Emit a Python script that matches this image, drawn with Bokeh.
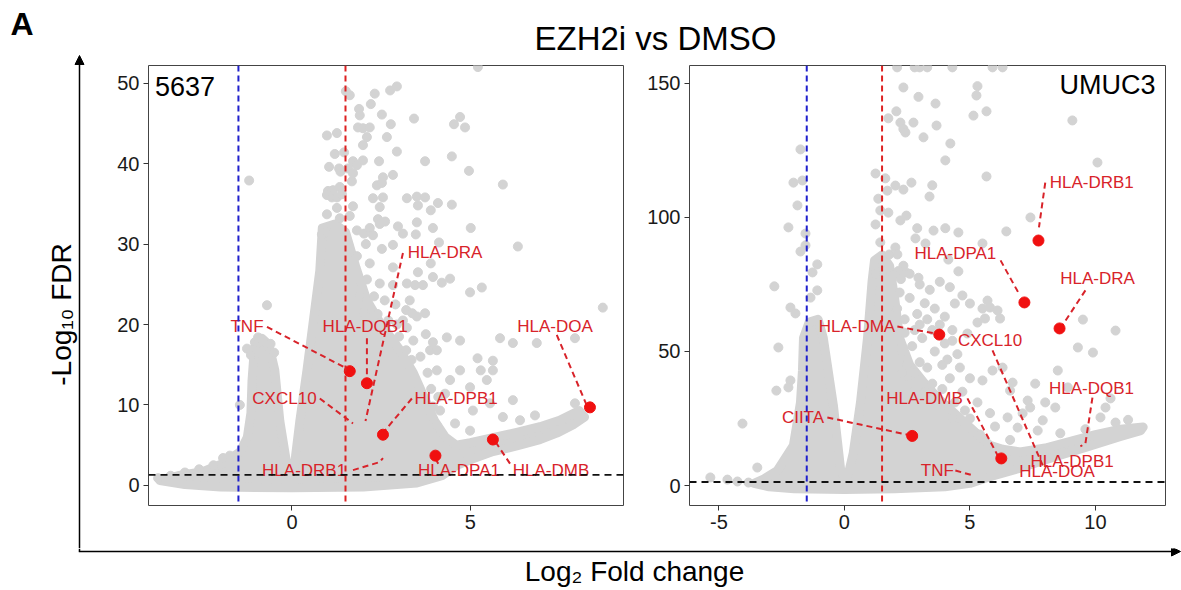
from bokeh.plotting import figure
from bokeh.layouts import column, row
from bokeh.models import Range1d, FixedTicker, Span, Arrow, NormalHead
from bokeh.embed import file_html
from bokeh.resources import INLINE
from bokeh.core.properties import value

# ---------------- data ----------------
# panel 5637 : scattered genes (log2FC, -log10 FDR)
grey_5637 = [
    (5.21, 52.0), (1.51, 49.0), (1.62, 48.5), (2.32, 48.7), (2.75, 49.1), (2.94, 49.6),
    (1.88, 46.8), (1.90, 46.0), (2.21, 47.4), (2.52, 46.1), (3.42, 45.6), (4.71, 45.8), (4.54, 44.9), (4.85, 44.5),
    (0.98, 43.5), (1.26, 43.8), (1.85, 44.5), (1.99, 44.4), (2.18, 44.5), (2.77, 44.9), (2.10, 43.3), (2.66, 43.3),
    (1.99, 42.3), (2.94, 41.5), (1.20, 41.2), (1.46, 41.4), (1.71, 40.3), (1.99, 40.4), (1.82, 39.8), (2.44, 40.3),
    (3.73, 40.3), (4.48, 40.9), (1.04, 39.6), (1.32, 39.4), (1.36, 39.0), (1.57, 39.4), (1.71, 38.8), (4.96, 39.1),
    (-1.20, 37.9), (2.83, 38.6), (2.55, 38.3), (1.68, 37.8), (2.38, 37.3), (2.52, 37.6), (5.91, 37.4),
    (1.01, 36.6), (1.15, 36.7), (1.34, 37.1), (0.98, 36.1), (1.12, 35.8), (1.26, 35.8), (1.40, 36.2), (2.27, 35.7),
    (2.55, 35.8), (3.22, 35.7), (3.50, 35.9), (3.73, 35.8), (3.53, 34.8), (4.09, 35.1), (4.48, 34.9),
    (1.26, 34.5), (1.71, 34.7), (2.46, 34.6), (3.89, 34.2), (0.98, 33.7), (1.34, 33.2), (1.62, 33.5), (2.41, 33.1),
    (2.61, 32.8), (2.46, 32.5), (3.50, 32.7), (2.97, 32.2), (3.11, 31.3), (1.82, 31.7), (2.02, 31.3), (2.18, 32.0),
    (2.27, 31.1), (3.95, 32.0), (5.01, 32.0), (0.84, 31.2), (0.98, 31.5), (1.15, 31.3), (3.47, 31.2), (2.83, 29.9),
    (2.52, 29.4), (2.07, 30.0), (4.12, 30.2), (6.33, 29.7), (1.82, 28.5), (2.18, 27.6), (3.89, 27.6), (2.83, 27.1),
    (3.53, 26.5), (3.95, 25.9), (4.43, 25.7), (2.46, 25.1), (2.83, 24.9), (3.22, 25.1), (3.45, 24.9), (3.67, 24.9),
    (4.20, 25.2), (4.99, 24.0), (5.32, 24.6), (8.71, 22.1), (-0.70, 22.4),
    (3.20, 21.8), (3.37, 21.4), (3.50, 21.0), (3.73, 21.4), (2.94, 20.0), (3.11, 20.5), (3.22, 19.6),
    (3.87, 16.8), (3.95, 17.8), (4.06, 16.8), (4.34, 18.4), (4.71, 18.0),
    (5.83, 18.3), (6.19, 17.7), (6.86, 17.7), (7.93, 18.3),
    (5.20, 15.8), (5.63, 15.5), (5.29, 14.3), (5.63, 14.3), (5.46, 13.1),
    (4.06, 14.3), (4.43, 13.1), (4.71, 14.3), (4.99, 12.2), (5.07, 9.3), (5.55, 10.2), (5.91, 8.5), (4.99, 6.8),
    (4.57, 7.7), (4.15, 9.3), (4.29, 11.4), (6.39, 8.1), (6.81, 8.7), (6.19, 10.6), (7.93, 10.2),
    (2.30, 23.5), (2.60, 23.0), (2.90, 22.5), (3.30, 23.0), (2.00, 21.5), (2.40, 21.3), (2.70, 20.5),
    (3.00, 18.5), (3.40, 18.0), (3.60, 16.0), (3.35, 15.6), (3.80, 14.0), (3.90, 12.0), (4.10, 11.0),
    (3.75, 18.8), (3.20, 16.8), (2.10, 25.6), (1.90, 23.6), (4.05, 7.5), (3.95, 9.8),
    (-1.46, 10.0), (-1.93, 3.4), (-1.74, 3.7), (-1.04, 17.8), (-0.95, 18.4), (-1.26, 17.0), (-1.15, 16.2),
    (-0.60, 17.6), (-0.50, 16.5), (-2.20, 2.5), (-2.60, 2.0), (-3.00, 1.6), (-3.40, 1.2), (-3.75, 0.9),
]
# outline of the densely packed (overplotted) gene cloud, panel 5637
dense_5637 = [
    (-3.7, 0.6), (-3.0, 0.1), (-2.0, -0.2), (0.0, -0.3), (2.0, -0.2), (3.5, 0.3), (4.2, 1.2), (4.62, 2.5),
    (5.07, 3.3), (5.63, 4.2), (6.3, 4.9), (6.95, 5.7), (7.42, 6.5), (7.87, 7.5), (8.2, 8.5), (8.05, 9.3),
    (7.5, 8.1), (6.95, 7.3), (6.3, 6.6), (5.6, 5.9), (5.0, 5.3), (4.6, 5.0), (4.3, 6.0), (4.0, 8.0),
    (3.7, 11.0), (3.4, 14.0), (3.0, 17.0), (2.5, 20.0), (2.1, 23.0), (1.8, 27.0), (1.5, 31.5), (1.2, 32.5),
    (0.85, 32.0), (0.78, 26.7), (0.6, 20.5), (0.42, 14.3), (0.22, 8.0), (0.05, 1.8), (-0.05, 1.5),
    (-0.14, 2.5), (-0.34, 8.0), (-0.48, 14.3), (-0.65, 17.5), (-0.85, 18.3), (-1.05, 17.2), (-1.12, 13.0),
    (-1.15, 9.0), (-1.25, 6.0), (-1.45, 4.2), (-1.9, 2.8), (-2.5, 1.7), (-3.2, 1.2),
]
genes_5637 = ["TNF", "HLA-DQB1", "HLA-DRA", "CXCL10", "HLA-DPB1", "HLA-DRB1", "HLA-DPA1", "HLA-DMB", "HLA-DOA"]
fc_5637 = [1.62, 2.10, 2.04, 1.76, 2.55, 2.55, 4.02, 5.63, 8.35]
fdr_5637 = [14.2, 12.7, 7.5, 7.6, 6.3, 3.5, 3.7, 5.7, 9.7]
shown_5637 = [True, True, False, False, True, False, True, True, True]

# panel UMUC3
grey_umuc3 = [
    (2.1, 156.0), (2.8, 156.0), (3.0, 156.0), (3.3, 156.0), (4.3, 156.0), (5.9, 156.0), (6.3, 156.0),
    (2.35, 148.5), (2.95, 145.0), (3.63, 142.5), (5.30, 149.0), (5.26, 145.5), (5.66, 139.6), (5.14, 138.0),
    (1.75, 137.0), (2.07, 139.6), (2.23, 135.4), (2.35, 133.0), (2.75, 135.4), (2.43, 131.7), (3.67, 134.3),
    (3.15, 129.9), (4.22, 127.6), (-1.75, 125.4), (4.02, 121.3), (9.08, 136.2), (10.08, 120.5), (5.66, 115.3),
    (1.24, 116.4), (-2.03, 113.0), (-1.67, 113.8), (1.63, 114.6), (1.71, 110.0), (2.03, 111.9), (2.35, 110.4),
    (2.67, 113.0), (3.50, 112.0), (3.39, 107.8), (-1.87, 104.5), (1.35, 107.0), (1.43, 102.6), (1.75, 101.8),
    (2.23, 98.9), (2.47, 100.7), (7.41, 100.0), (-2.23, 96.3), (-1.55, 94.0), (1.24, 97.4), (2.90, 96.0),
    (3.55, 95.1), (4.02, 96.0), (4.54, 94.4), (6.45, 94.8), (2.83, 92.2), (3.23, 90.3), (1.43, 90.7), (5.50, 90.3),
    (-1.55, 89.6), (-1.75, 87.3), (2.03, 88.8), (1.79, 86.2), (2.11, 86.2), (-1.08, 82.5), (-1.27, 79.5),
    (4.14, 84.3), (2.35, 82.0), (2.15, 80.0), (2.45, 79.5), (1.95, 78.5), (2.60, 79.0), (2.95, 77.5), (1.85, 76.5),
    (2.25, 77.0), (1.24, 79.0), (4.54, 79.9), (-2.79, 74.3), (-2.63, 51.5), (-2.71, 35.4), (-4.06, 23.1),
    (-3.47, 6.7), (-5.34, 3.0), (-4.66, 2.2), (-4.26, 1.5), (-3.82, 1.1), (-2.15, 66.4), (-1.95, 64.2),
    (-1.08, 72.8), (-1.35, 70.1), (-2.15, 39.2), (-2.23, 36.6), (10.8, 57.8), (9.9, 49.6), (9.5, 61.9),
    (9.3, 51.5), (8.5, 42.9), (8.4, 29.1), (8.9, 36.6), (7.6, 38.0), (6.7, 38.4), (6.6, 35.4), (5.7, 69.0),
    (5.8, 66.4), (5.5, 66.0), (5.0, 67.9), (4.4, 67.9), (4.7, 70.9), (4.9, 56.7), (4.3, 54.0), (4.0, 53.0),
    (5.3, 60.8), (5.6, 62.3), (6.1, 65.3), (6.2, 62.3), (6.3, 44.0), (5.9, 42.9), (5.5, 39.2), (7.3, 31.7),
    (7.4, 29.1), (8.0, 31.0), (7.9, 24.3), (7.7, 20.5), (6.5, 25.4), (6.9, 21.6), (7.1, 26.9), (10.2, 25.4),
    (10.4, 29.1), (10.6, 32.5), (3.0, 75.0), (3.4, 73.0), (3.8, 76.0), (4.2, 74.0), (2.6, 70.0), (3.2, 68.0),
    (3.6, 66.0), (2.9, 64.0), (3.3, 62.0), (4.0, 63.0), (2.4, 62.0), (2.8, 58.0), (3.1, 55.0), (3.6, 50.0),
    (4.1, 47.0), (4.6, 44.0), (5.0, 40.0), (4.7, 35.0), (5.3, 31.0), (5.8, 27.0), (6.0, 22.0), (6.6, 17.0),
    (8.6, 19.5), (9.6, 21.0), (10.8, 23.5), (11.3, 24.5),
    (2.3, 50.0), (2.5, 45.0), (2.8, 42.0), (3.0, 46.0), (3.3, 44.0), (2.7, 52.0), (2.4, 57.0), (3.5, 38.0),
    (3.9, 36.0), (4.2, 40.0), (4.4, 31.0), (4.8, 28.0), (5.0, 25.0), (2.1, 66.0), (2.2, 72.0), (3.5, 58.0),
    (3.8, 60.0), (3.0, 60.0), (4.3, 58.0), (4.5, 49.0), (3.9, 45.0), (2.6, 38.0), (3.2, 35.0), (3.7, 30.0),
    (4.3, 25.0), (5.4, 19.0), (2.9, 32.0), (2.3, 42.0),
]
dense_umuc3 = [
    (-3.6, 0.8), (-3.0, -0.5), (-2.0, -1.2), (0.0, -1.5), (2.0, -1.2), (4.0, -0.5), (5.0, 0.8), (5.7, 3.0),
    (7.0, 6.5), (8.3, 10.5), (9.7, 14.5), (11.0, 18.3), (11.8, 20.5), (11.9, 21.8), (11.0, 21.0), (10.0, 19.0),
    (9.0, 16.5), (8.0, 14.0), (7.0, 12.5), (6.3, 13.5), (5.8, 15.0), (5.2, 20.0), (4.5, 26.0), (3.8, 32.0),
    (3.2, 38.0), (2.6, 45.0), (2.2, 55.0), (2.0, 70.0), (1.8, 82.0), (1.5, 86.0), (1.2, 84.0),
    (1.1, 76.0), (0.92, 55.0), (0.64, 31.0), (0.35, 12.0), (0.15, 4.0), (0.0, 2.5), (-0.15, 6.0),
    (-0.44, 30.0), (-0.84, 55.0), (-1.05, 62.0), (-1.4, 61.0), (-1.63, 55.0), (-1.67, 43.0), (-1.75, 31.0),
    (-2.03, 15.0), (-2.67, 5.6), (-3.2, 2.5),
]
genes_umuc3 = ["HLA-DRB1", "HLA-DPA1", "HLA-DRA", "HLA-DMA", "CXCL10", "HLA-DMB", "CIITA", "TNF",
               "HLA-DQB1", "HLA-DPB1", "HLA-DOA"]
fc_umuc3 = [7.73, 7.17, 8.57, 3.78, 7.9, 6.25, 2.7, 5.2, 9.4, 8.1, 7.7]
fdr_umuc3 = [91.4, 68.3, 58.6, 56.3, 9.9, 10.1, 18.5, 3.4, 14.5, 10.4, 9.7]
shown_umuc3 = [True, True, True, True, False, True, True, False, False, False, False]

fc_cut = 1.5
fdr_cut = 1.3

# ---------------- label layout (repel positions) ----------------
lab_5637 = [(-1.26, 19.8), (2.05, 19.7), (4.29, 28.9), (-0.21, 10.8), (4.60, 10.8), (0.34, 1.9),
            (4.68, 1.9), (7.26, 1.9), (7.37, 19.8)]
seg_5637 = [([-0.70, 1.55], [19.7, 14.5]), ([2.10, 2.10], [18.3, 13.6]), ([3.11, 2.06], [28.9, 8.0]),
            ([0.78, 1.71], [10.8, 7.7]), ([3.36, 2.60], [10.8, 6.8]), ([1.71, 2.46, 2.55], [1.9, 2.9, 3.4]),
            ([4.10, 4.00], [2.7, 3.5]), ([6.11, 5.69], [2.7, 5.5]), ([7.42, 8.26], [18.7, 9.95])]
lab_umuc3 = [(9.85, 113.0), (4.42, 86.6), (10.08, 77.2), (0.5, 59.3), (5.8, 54.0), (3.19, 32.5),
             (-1.65, 25.4), (3.7, 5.6), (9.84, 36.2), (9.07, 9.0), (8.47, 5.2)]
seg_umuc3 = [([8.0, 7.75], [113.0, 96.3]), ([6.22, 6.95], [84.0, 71.6]), ([9.6, 8.7], [72.8, 60.0]),
             ([2.11, 3.63], [59.3, 56.7]), ([5.9, 7.9], [50.4, 7.5]), ([4.9, 6.14], [32.5, 10.6]),
             ([-0.68, 2.63], [25.4, 18.7]), ([4.42, 5.14], [5.6, 3.7]),
             ([9.88, 9.6, 9.4], [32.8, 15.7, 14.6])]

FONT = "Liberation Sans"
GREY = "#d3d3d3"
RED_TXT = "#d8232a"
RED_PT = "#f01010"
ROW_H = 490


def panel(width, border_left, border_right, xr, yr, xticks, yticks, grey, dense, genes, fc, fdr, shown,
          labs, segs, tag, tag_xy, tag_align):
    p = figure(width=width, height=ROW_H, x_range=Range1d(*xr), y_range=Range1d(*yr),
               output_backend="svg", toolbar_location=None, title=None,
               min_border_left=border_left, min_border_right=border_right,
               min_border_top=7, min_border_bottom=43)
    p.xgrid.visible = False
    p.ygrid.visible = False
    p.outline_line_color = "#444444"
    p.outline_line_width = 1
    p.background_fill_color = "white"
    for ax, ticks in ((p.xaxis, xticks), (p.yaxis, yticks)):
        ax.ticker = FixedTicker(ticks=ticks)
        ax.major_label_overrides = {t: str(t) for t in ticks}
        ax.axis_line_color = None
        ax.major_tick_line_color = "#333333"
        ax.major_tick_out = 5
        ax.major_tick_in = 0
        ax.minor_tick_line_color = None
        ax.major_label_text_font = FONT
        ax.major_label_text_font_size = "20px"
        ax.major_label_text_color = "#1a1a1a"
        ax.major_label_standoff = 4
    # highlighted genes hidden under the cloud
    hx = [x for x, s in zip(fc, shown) if not s]
    hy = [y for y, s in zip(fdr, shown) if not s]
    p.scatter(hx, hy, size=9, color=RED_PT)
    # dense, overplotted part of the cloud
    p.patch([a for a, b in dense], [b for a, b in dense], fill_color=GREY, line_color=GREY,
            line_width=9, line_join="round")
    p.scatter([a for a, b in grey], [b for a, b in grey], size=9, color=GREY)
    # threshold lines
    p.add_layout(Span(location=-fc_cut, dimension="height", line_color="#2020cc", line_dash="6 4", line_width=2))
    p.add_layout(Span(location=fc_cut, dimension="height", line_color="#dd2222", line_dash="6 4", line_width=2))
    p.add_layout(Span(location=fdr_cut, dimension="width", line_color="#111111", line_dash="7 5", line_width=1.8))
    # leader lines + labels
    p.multi_line([s[0] for s in segs], [s[1] for s in segs], line_color=RED_TXT, line_dash="6 4", line_width=2)
    vx = [x for x, s in zip(fc, shown) if s]
    vy = [y for y, s in zip(fdr, shown) if s]
    p.scatter(vx, vy, size=11, color=RED_PT)
    p.text(x=[a for a, b in labs], y=[b for a, b in labs], text=genes, text_font=value(FONT),
           text_font_size="17px", text_color=RED_TXT, text_align="center", text_baseline="middle")
    p.text(x=[tag_xy[0]], y=[tag_xy[1]], text=[tag], text_font=value(FONT), text_font_size="27px",
           text_color="black", text_align=tag_align, text_baseline="middle")
    return p


p_left = panel(530, 48, 7, (-4.02, 9.29), (-2.5, 52.2), [0, 5], [0, 10, 20, 30, 40, 50],
               grey_5637, dense_5637, genes_5637, fc_5637, fdr_5637, shown_5637, lab_5637, seg_5637,
               "5637", (-3.84, 49.6), "left")
p_right = panel(551, 59, 16, (-6.17, 12.79), (-7.46, 156.7), [-5, 0, 5, 10], [0, 50, 100, 150],
                grey_umuc3, dense_umuc3, genes_umuc3, fc_umuc3, fdr_umuc3, shown_umuc3, lab_umuc3, seg_umuc3,
                "UMUC3", (12.39, 149.3), "right")


def strip(w, h):
    s = figure(width=w, height=h, x_range=Range1d(0, w), y_range=Range1d(0, h), output_backend="svg",
               toolbar_location=None, title=None, min_border=0, x_axis_location=None, y_axis_location=None)
    s.xgrid.visible = False
    s.ygrid.visible = False
    s.outline_line_color = None
    return s


# left strip: panel letter, y-axis arrow and y title (page x 0-100, y 0-548)
side = strip(100, 548)
side.text(x=[10], y=[525], text=["A"], text_font=value(FONT), text_font_size="32px", text_font_style="bold",
          text_color="black", text_align="left", text_baseline="middle")
side.add_layout(Arrow(end=NormalHead(size=9, fill_color="black", line_color="black", line_width=1),
                      x_start=79, y_start=0, x_end=79, y_end=493, line_width=1.5, line_color="black"))
side.text(x=[61], y=[234], text=["-Log\u2081\u2080 FDR"], text_font=value(FONT), text_font_size="28px",
          text_color="black", text_align="center", text_baseline="middle", angle=1.5708)

# title strip (page x 100-1181, y 0-58)
top = strip(1081, 58)
top.text(x=[555], y=[20], text=["EZH2i vs DMSO"], text_font=value(FONT), text_font_size="33px",
         text_color="black", text_align="center", text_baseline="middle")

# bottom strip: x-axis arrow and x title (page y 548-590)
bot = strip(1181, 42)
bot.line([79, 79], [42, 39], line_color="black", line_width=1.5)
bot.add_layout(Arrow(end=NormalHead(size=9, fill_color="black", line_color="black", line_width=1),
                     x_start=78.3, y_start=39, x_end=1180, y_end=39, line_width=1.5, line_color="black"))
bot.text(x=[634], y=[19], text=["Log\u2082 Fold change"], text_font=value(FONT), text_font_size="28px",
         text_color="black", text_align="center", text_baseline="middle")

layout = column(row(side, column(top, row(p_left, p_right))), bot)
open("out.html", "w").write(file_html(layout, INLINE))
